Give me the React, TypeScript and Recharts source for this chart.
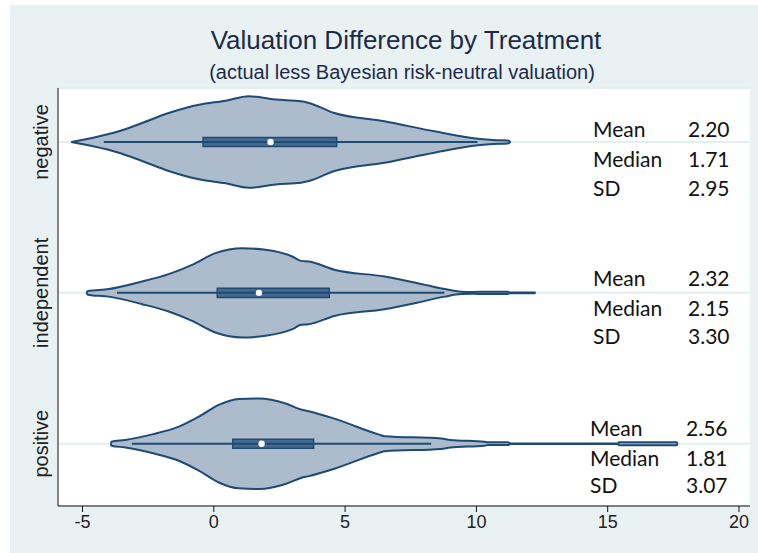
import React from 'react';
import {
  ComposedChart,
  Area,
  XAxis,
  YAxis,
  CartesianGrid,
  ReferenceLine,
  ReferenceArea,
  ReferenceDot,
} from 'recharts';

// ---------- data ----------
const categories = ['negative', 'independent', 'positive'];
const categoryPos = [3, 2, 1];

const negativeX = [-5.43, -4.64, -3.62, -2.73, -1.72, -0.57, 0.45, 1.33, 2.35, 3.32, 3.62, 4.59, 6.5, 8.4, 10.06, 10.63, 11.2, 11.3];
const negativeDensity = [0, 0.027, 0.071, 0.126, 0.192, 0.247, 0.274, 0.303, 0.281, 0.27, 0.259, 0.192, 0.137, 0.071, 0.022, 0.013, 0.01, 0];

const independentX = [-4.85, -4.8, -4.0, -2.73, -1.72, -0.83, 0.06, 1.08, 1.97, 2.99, 3.32, 3.62, 4.59, 6.5, 7.77, 8.79, 9.42, 9.9, 10.3, 11.2, 11.25, 12.22, 12.25];
const independentDensity = [0, 0.012, 0.025, 0.075, 0.124, 0.186, 0.263, 0.296, 0.285, 0.241, 0.212, 0.208, 0.153, 0.108, 0.064, 0.025, 0.008, 0.006, 0.008, 0.008, 0.002, 0.002, 0];

const positiveX = [-3.92, -3.9, -3.37, -2.35, -1.33, -0.57, 0.19, 0.95, 1.72, 2.73, 3.32, 3.62, 4.59, 6.3, 6.5, 8.66, 9.0, 10.31, 10.44, 11.2, 11.3, 15.4, 15.43, 17.63, 17.66];
const positiveDensity = [0, 0.013, 0.025, 0.062, 0.113, 0.179, 0.257, 0.296, 0.3, 0.267, 0.227, 0.215, 0.166, 0.06, 0.05, 0.035, 0.025, 0.013, 0.009, 0.009, 0.002, 0.002, 0.01, 0.01, 0];

const whiskerLow = [-4.19, -3.69, -3.12];
const whiskerHigh = [10.04, 8.78, 8.28];
const boxLow = [-0.41, 0.13, 0.72];
const boxHigh = [4.68, 4.4, 3.8];
const medianMark = [2.16, 1.72, 1.82];

const statNames = ['Mean', 'Median', 'SD'];
const meanValues = ['2.20', '2.32', '2.56'];
const medianValues = ['1.71', '2.15', '1.81'];
const sdValues = ['2.95', '3.30', '3.07'];

const xTicks = [-5, 0, 5, 10, 15, 20];

// ---------- styling ----------
const NAVY = '#1f4a74';
const VIOLIN_FILL = '#adbccc';
const BOX_FILL = '#466a8f';
const BG = '#e9f1f3';
const BOX_HALF = 0.03;

const xs = [negativeX, independentX, positiveX];
const ds = [negativeDensity, independentDensity, positiveDensity];
const violinData = xs.map((xArr, i) =>
  xArr.map((x, j) => ({ x, band: [categoryPos[i] - ds[i][j], categoryPos[i] + ds[i][j]] }))
);

const statBlocks = [
  { x1: 593, x2: 688, ys: [137, 167, 196] },
  { x1: 593, x2: 688, ys: [286, 316, 344] },
  { x1: 590, x2: 686, ys: [436, 466, 493] },
];

const CatTick = (props: any) => {
  const { y, payload } = props;
  const idx = categoryPos.indexOf(payload.value);
  const cx = 41;
  return (
    <text
      x={cx}
      y={y}
      transform={`rotate(-90, ${cx}, ${y})`}
      textAnchor="middle"
      dominantBaseline="central"
      fontSize={20}
      fill="#222"
      fontFamily="'Liberation Sans', Arial, sans-serif"
    >
      {categories[idx]}
    </text>
  );
};

export default function App() {
  return (
    <div style={{ position: 'absolute', left: 0, top: 0, width: 758, height: 553, background: '#fff' }}>
      <div style={{ position: 'absolute', left: 10, top: 5, right: 0, bottom: 0, background: BG }} />
      <div style={{ position: 'absolute', left: 0, top: 0 }}>
        <ComposedChart width={758} height={553} margin={{ top: 88, right: 8, bottom: 0, left: 0 }}>
          <CartesianGrid fill="#ffffff" vertical={false} stroke="#e4eef1" strokeWidth={2} />
          <XAxis
            type="number"
            dataKey="x"
            domain={[-5.934, 20.42]}
            ticks={xTicks}
            allowDataOverflow
            height={47}
            stroke="#111"
            tickSize={6}
            tickMargin={3}
            tick={{ fontSize: 18, fill: '#222', fontFamily: "'Liberation Sans', Arial, sans-serif" }}
          />
          <YAxis
            type="number"
            domain={[0.587, 3.358]}
            ticks={categoryPos}
            allowDataOverflow
            width={58}
            stroke="#111"
            tickLine={false}
            tick={<CatTick />}
          />
          {violinData.map((d, i) => (
            <Area
              key={categories[i]}
              data={d}
              dataKey="band"
              type="monotoneX"
              fill={VIOLIN_FILL}
              fillOpacity={1}
              stroke={NAVY}
              strokeWidth={2}
              dot={false}
              activeDot={false}
              isAnimationActive={false}
            />
          ))}
          {categories.map((c, i) => (
            <ReferenceLine
              key={'w' + c}
              segment={[
                { x: whiskerLow[i], y: categoryPos[i] },
                { x: whiskerHigh[i], y: categoryPos[i] },
              ]}
              stroke={NAVY}
              strokeWidth={2}
            />
          ))}
          {categories.map((c, i) => (
            <ReferenceArea
              key={'b' + c}
              x1={boxLow[i]}
              x2={boxHigh[i]}
              y1={categoryPos[i] - BOX_HALF}
              y2={categoryPos[i] + BOX_HALF}
              fill={BOX_FILL}
              fillOpacity={1}
              stroke={NAVY}
              strokeWidth={1.5}
            />
          ))}
          {categories.map((c, i) => (
            <ReferenceDot
              key={'m' + c}
              x={medianMark[i]}
              y={categoryPos[i]}
              r={3.2}
              fill="#ffffff"
              stroke="none"
            />
          ))}
        </ComposedChart>
      </div>
      <svg width={758} height={553} style={{ position: 'absolute', left: 0, top: 0, pointerEvents: 'none' }}>
        <text x={406} y={49} textAnchor="middle" fontSize={26} fill="#1c2b4a" fontFamily="'Liberation Sans', Arial, sans-serif">
          Valuation Difference by Treatment
        </text>
        <text x={402} y={79} textAnchor="middle" fontSize={20} fill="#1c2b4a" fontFamily="'Liberation Sans', Arial, sans-serif">
          (actual less Bayesian risk-neutral valuation)
        </text>
        {statBlocks.map((b, i) => {
          const vals = [meanValues[i], medianValues[i], sdValues[i]];
          return (
            <g key={'s' + i} fontFamily="Lato, 'Open Sans', sans-serif" fontSize={21} fill="#111">
              {statNames.map((n, k) => (
                <React.Fragment key={n}>
                  <text x={b.x1} y={b.ys[k]}>{n}</text>
                  <text x={b.x2} y={b.ys[k]}>{vals[k]}</text>
                </React.Fragment>
              ))}
            </g>
          );
        })}
      </svg>
    </div>
  );
}
